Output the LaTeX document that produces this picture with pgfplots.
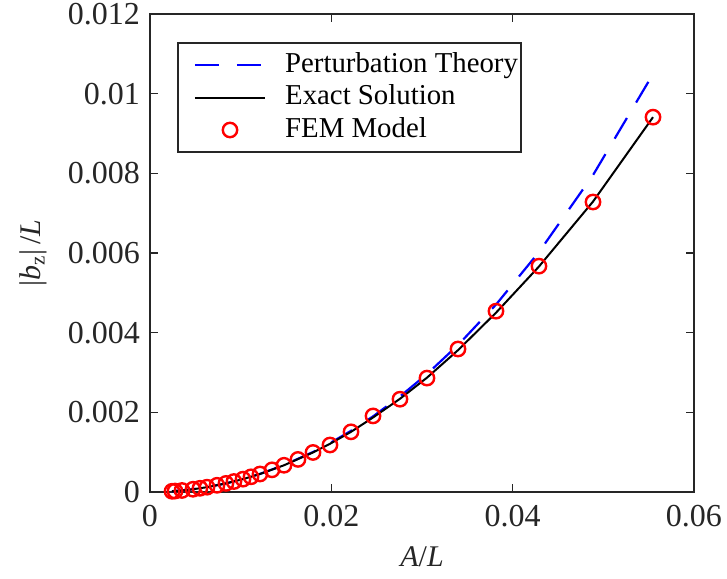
\documentclass[border=0pt]{standalone}
\usepackage{fontspec}
\setmainfont{Liberation Serif}
\usepackage{pgfplots}
\usepackage{pgfplotstable}
\pgfplotsset{compat=1.18}
\definecolor{axgray}{RGB}{38,38,38}

% FEM points
\pgfplotstableread{
x y
0.00243 0.0000181
0.00276 0.0000234
0.00353 0.0000383
0.00474 0.0000690
0.00551 0.0000932
0.00629 0.000121
0.00739 0.000168
0.00838 0.000216
0.00926 0.000263
0.01026 0.000323
0.01114 0.000381
0.01213 0.000452
0.01346 0.000556
0.01478 0.000671
0.01632 0.000818
0.01798 0.000993
0.01985 0.00118
0.02217 0.00151
0.02460 0.00191
0.02757 0.00233
0.03055 0.00286
0.03397 0.00359
0.03816 0.00454
0.04290 0.00567
0.04886 0.00728
0.05548 0.00941
}\femdata

\pgfplotstableread{
x y
0.00243 0.0000181
0.00353 0.0000383
0.00474 0.0000690
0.00629 0.000121
0.00838 0.000216
0.01026 0.000323
0.01213 0.000452
0.01478 0.000671
0.01798 0.000993
0.01985 0.00121
0.02217 0.00151
0.02460 0.00187
0.02757 0.00234
0.03055 0.00287
0.03397 0.00356
0.03816 0.00450
0.04290 0.00566
0.04886 0.00729
0.05548 0.00941
}\exactdata

\pgfplotstableread{
x y
0.00243 0.0000181
0.00474 0.0000691
0.00629 0.000122
0.00838 0.000216
0.01026 0.000324
0.01213 0.000454
0.01478 0.000676
0.01798 0.001004
0.01985 0.001227
0.02217 0.001536
0.02460 0.001898
0.02757 0.002397
0.03055 0.002961
0.03397 0.003689
0.03816 0.004704
0.04290 0.006023
0.04886 0.007955
0.05548 0.010492
}\pertdata

\begin{document}
\begin{tikzpicture}
\begin{axis}[
    name=a,
    scale only axis,
    width=272pt,
    height=239pt,
    xmin=0, xmax=0.06,
    ymin=0, ymax=0.012,
    xtick={0,0.02,0.04,0.06},
    xticklabels={0,0.02,0.04,0.06},
    ytick={0,0.002,0.004,0.006,0.008,0.01,0.012},
    yticklabels={0,0.002,0.004,0.006,0.008,0.01,0.012},
    scaled ticks=false,
    tick align=inside,
    major tick length=4pt,
    axis line style={axgray, line width=1pt},
    tick style={axgray, line width=0.8pt},
    tick label style={font=\fontsize{16}{18}\selectfont, text=axgray},
    yticklabel style={xshift=-1.5pt},
    xticklabel style={yshift=-3pt},
    label style={font=\fontsize{15}{17}\selectfont, text=axgray},
    xlabel={\textit{A}/\textit{L}},
    ylabel={|\textit{b}\textsubscript{z}|\,/\textit{L}},
    xlabel style={at={(axis description cs:0.5,-0.136)}, anchor=center},
    ylabel style={at={(axis description cs:-0.215,0.5)}, anchor=center},
    legend image code/.code={
        \path (0pt,0pt) (41.5pt,0pt);
        \draw[mark repeat=2,mark phase=2]
        plot coordinates {(6.5pt,0pt) (24pt,0pt) (41.5pt,0pt)};
    },
    legend cell align=left,
    legend style={
        at={(rel axis cs:0.0496,0.941)}, anchor=north west,
        draw=axgray, line width=0.8pt,
        font=\fontsize{14.4}{17}\selectfont,
        inner xsep=1.5pt, inner ysep=3.5pt,
        nodes={inner xsep=0pt, inner ysep=0pt, text height=11pt, text depth=4pt},
        row sep=1.25pt,
        /tikz/every odd column/.append style={column sep=9.5pt},
    },
]
\addplot[blue, line width=1.1pt, dash pattern=on 12pt off 9pt] table[x=x, y=y] {\pertdata};
\addlegendentry{Perturbation Theory}
\addplot[black, line width=1pt] table[x=x, y=y] {\exactdata};
\addlegendentry{Exact Solution}
\addplot[red, only marks, mark=o, mark size=3.6pt, line width=1.2pt] table[x=x, y=y] {\femdata};
\addlegendentry{FEM Model}
\end{axis}
\pgfresetboundingbox
\path ([shift={(-75pt,-43pt)}]a.south west) rectangle ([shift={(16.5pt,7pt)}]a.north east);
\end{tikzpicture}
\end{document}
